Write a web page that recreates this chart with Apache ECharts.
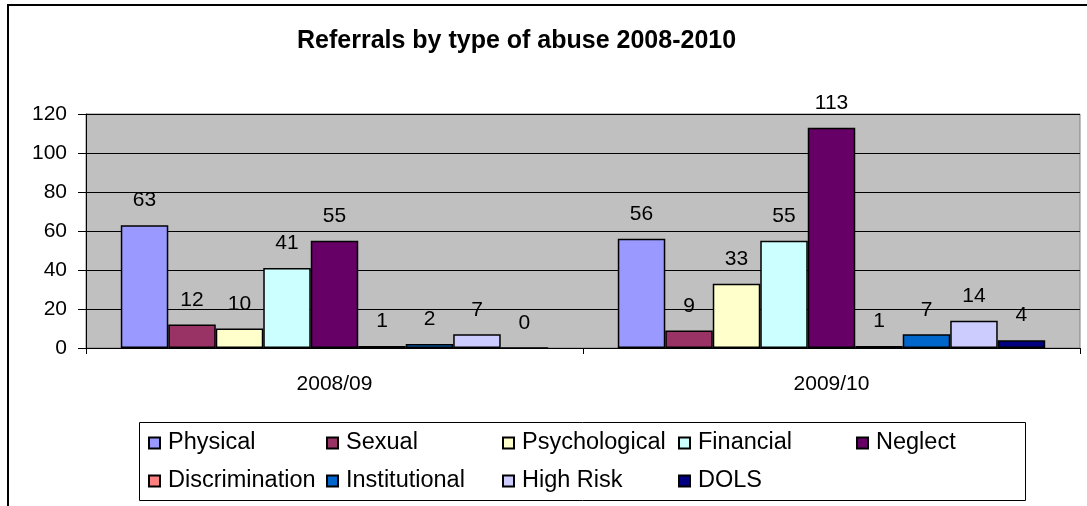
<!DOCTYPE html>
<html>
<head>
<meta charset="utf-8">
<script src="https://cdn.jsdelivr.net/npm/echarts@6/dist/echarts.min.js"></script>
<style>
  html, body { margin: 0; padding: 0; background: #fff; }
  #chart { width: 1087px; height: 506px; }
</style>
</head>
<body>
<div id="chart"></div>
<script>
  // data
  const years = ['2008/09', '2009/10']
  const physical = [63, 56]
  const sexual = [12, 9]
  const psychological = [10, 33]
  const financial = [41, 55]
  const neglect = [55, 113]
  const discrimination = [1, 1]
  const institutional = [2, 7]
  const highRisk = [7, 14]
  const dols = [0, 4]
  const yTicks = [0, 20, 40, 60, 80, 100, 120]

  const font = 'Liberation Sans, Arial, sans-serif'

  const seriesDefs = [
    ['Physical', physical, '#9999FF'],
    ['Sexual', sexual, '#993366'],
    ['Psychological', psychological, '#FFFFCC'],
    ['Financial', financial, '#CCFFFF'],
    ['Neglect', neglect, '#660066'],
    ['Discrimination', discrimination, '#FF8080'],
    ['Institutional', institutional, '#0066CC'],
    ['High Risk', highRisk, '#CCCCFF'],
    ['DOLS', dols, '#000080']
  ]

  // legend laid out as 5 columns, 2 rows
  const legendCols = [
    ['Physical', 'Discrimination'],
    ['Sexual', 'Institutional'],
    ['Psychological', 'High Risk'],
    ['Financial', 'DOLS'],
    ['Neglect']
  ]
  const colLeft = [148, 326, 502, 678, 856]

  const chart = echarts.init(document.getElementById('chart'))

  chart.setOption({
    animation: false,
    title: {
      text: 'Referrals by type of abuse 2008-2010',
      left: 297,
      top: 29,
      padding: 0,
      textStyle: { fontFamily: font, fontSize: 25, fontWeight: 'bold', color: '#000' }
    },
    grid: {
      left: 86,
      right: 7,
      top: 114,
      bottom: 158,
      show: true,
      backgroundColor: '#C0C0C0',
      borderColor: '#808080',
      borderWidth: 1
    },
    legend: legendCols.map((col, i) => ({
      data: col,
      orient: 'vertical',
      left: colLeft[i],
      top: 431,
      padding: 0,
      itemGap: 14,
      itemWidth: 11,
      itemHeight: 11,
      icon: 'rect',
      selectedMode: false,
      textStyle: { fontFamily: font, fontSize: 23.5, color: '#000', padding: [0, 0, 0, 3] }
    })),
    xAxis: {
      type: 'category',
      data: years,
      axisLine: { lineStyle: { color: '#000', width: 1 } },
      axisTick: { show: true, length: 6, lineStyle: { color: '#000' } },
      axisLabel: { fontFamily: font, fontSize: 21, color: '#000', margin: 26 }
    },
    yAxis: {
      type: 'value',
      min: 0,
      max: 120,
      interval: 20,
      axisLine: { show: true, lineStyle: { color: '#000', width: 1 } },
      axisTick: { show: true, length: 8, lineStyle: { color: '#000' } },
      splitLine: { lineStyle: { color: '#000', width: 1 } },
      axisLabel: {
        fontFamily: font, fontSize: 21, color: '#000', margin: 19,
        formatter: v => yTicks.includes(v) ? String(v) : ''
      }
    },
    series: seriesDefs.map(([name, data, color]) => ({
      name: name,
      type: 'bar',
      data: data,
      barGap: '0%',
      barCategoryGap: '14%',
      itemStyle: { color: color, borderColor: '#000', borderWidth: 1.5 },
      label: {
        show: true,
        position: 'top',
        distance: 14,
        fontFamily: font,
        fontSize: 21,
        color: '#000'
      }
    })),
    graphic: [
      {
        type: 'rect',
        shape: { x: 8, y: 5, width: 1100, height: 520 },
        style: { fill: 'none', stroke: '#000', lineWidth: 2 },
        silent: true
      },
      {
        type: 'rect',
        shape: { x: 139.5, y: 422.5, width: 886, height: 78 },
        style: { fill: 'none', stroke: '#000', lineWidth: 1 },
        silent: true
      }
    ]
  })
</script>
</body>
</html>
